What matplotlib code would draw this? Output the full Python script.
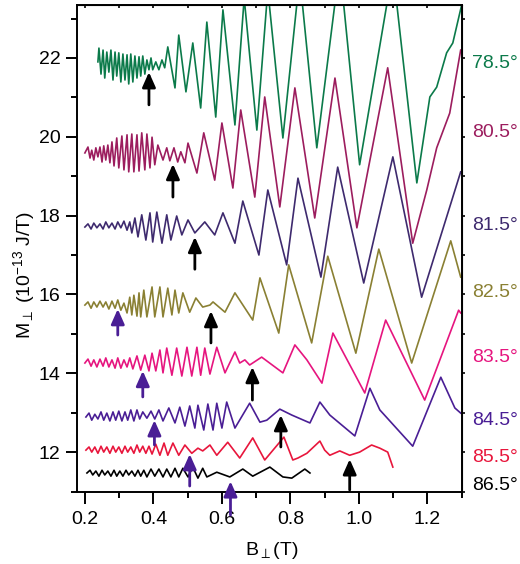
import matplotlib
matplotlib.use("Agg")
import matplotlib.pyplot as plt
from matplotlib.ticker import MultipleLocator
import matplotlib.transforms as mtransforms

plt.rcParams['font.family'] = ['Liberation Sans', 'DejaVu Sans']
plt.rcParams['mathtext.fontset'] = 'custom'
plt.rcParams['mathtext.rm'] = 'Liberation Sans'
plt.rcParams['mathtext.it'] = 'Liberation Sans:italic'

# ---------------- data ----------------
angles = ["78.5°", "80.5°", "81.5°", "82.5°", "83.5°", "84.5°", "85.5°", "86.5°"]
label_y = [21.87, 20.10, 17.76, 16.04, 14.39, 12.81, 11.87, 11.16]
colors = ["#0B7A4A", "#9C1D5E", "#3E2A6E", "#8A8033", "#E6157F", "#4A1E95", "#E8163C", "#000000"]

x785 = [0.238,0.241,0.247,0.253,0.258,0.264,0.270,0.276,0.282,0.288,0.293,0.299,0.305,0.311,0.317,0.323,0.328,0.334,0.340,0.346,0.352,0.358,0.363,0.369,
        0.375,0.381,0.387,0.393,0.398,0.407,0.416,0.425,0.433,0.442,0.463,0.474,0.495,0.515,0.538,0.556,0.582,0.603,0.638,0.665,0.702,0.734,0.778,0.827,
        0.877,0.944,1.002,1.099,1.169,1.207,1.227,1.256,1.274,1.300]
y785 = [21.90,22.25,21.59,22.20,21.49,22.15,21.64,22.20,21.44,22.15,21.54,22.13,21.39,22.10,21.44,22.08,21.34,22.10,21.39,22.05,21.49,22.03,21.54,22.05,
        21.59,21.95,21.70,22.00,21.70,21.90,21.70,21.95,21.75,22.28,21.24,22.58,21.14,22.38,20.73,22.91,20.50,23.22,20.30,23.52,20.17,23.73,19.97,24.06,
        19.72,24.36,19.29,24.26,18.83,21.01,21.26,22.13,22.38,23.35]

x805 = [0.200,0.209,0.215,0.220,0.226,0.232,0.238,0.244,0.250,0.255,0.261,0.267,0.273,0.279,0.285,0.293,0.299,0.308,0.314,0.323,0.328,0.337,0.343,0.352,
        0.358,0.366,0.375,0.381,0.390,0.396,0.404,0.413,0.428,0.439,0.448,0.460,0.471,0.480,0.492,0.501,0.527,0.547,0.579,0.600,0.632,0.655,0.696,0.725,
        0.769,0.813,0.871,0.930,0.994,1.084,1.157,1.198,1.227,1.265,1.297]
y805 = [19.59,19.74,19.46,19.66,19.41,19.72,19.49,19.74,19.36,19.77,19.41,19.79,19.34,19.87,19.26,19.97,19.21,20.02,19.16,20.05,19.11,20.07,19.11,20.05,
        19.13,20.10,19.16,20.07,19.21,19.99,19.29,19.79,19.41,19.72,19.39,19.72,19.36,19.62,19.34,19.84,19.08,20.10,18.90,20.35,18.70,20.68,18.47,21.01,
        18.22,21.24,17.94,21.49,17.69,21.75,17.30,18.65,19.72,20.60,22.20]

x815 = [0.200,0.209,0.218,0.226,0.235,0.244,0.253,0.261,0.270,0.279,0.288,0.296,0.305,0.314,0.323,0.331,0.337,0.346,0.355,0.366,0.378,0.390,0.398,0.410,
        0.425,0.439,0.451,0.468,0.483,0.501,0.521,0.550,0.579,0.603,0.638,0.661,0.708,0.734,0.789,0.822,0.889,0.938,1.014,1.099,1.183,1.297]
y815 = [17.71,17.79,17.66,17.81,17.69,17.79,17.66,17.84,17.69,17.81,17.66,17.84,17.69,17.86,17.63,17.84,17.56,17.94,17.46,18.02,17.38,18.07,17.33,18.09,
        17.30,18.02,17.38,17.99,17.51,17.89,17.56,17.84,17.51,18.07,17.30,18.37,17.00,18.65,16.75,18.95,16.44,19.23,16.29,19.49,15.93,19.11]

x825 = [0.200,0.209,0.218,0.226,0.235,0.244,0.253,0.261,0.270,0.279,0.288,0.296,0.305,0.314,0.323,0.331,0.337,0.343,0.352,0.358,0.363,0.372,0.381,0.396,
        0.404,0.419,0.428,0.442,0.454,0.463,0.474,0.486,0.506,0.524,0.544,0.565,0.574,0.609,0.638,0.690,0.711,0.766,0.795,0.862,0.909,0.991,1.058,1.154,
        1.268,1.297]
y825 = [15.73,15.81,15.65,15.81,15.68,15.83,15.68,15.81,15.63,15.83,15.65,15.86,15.60,15.78,15.53,15.93,15.48,15.98,15.45,16.04,15.43,16.11,15.43,16.19,
        15.43,16.19,15.43,16.16,15.48,16.11,15.53,16.04,15.55,15.91,15.68,15.73,15.81,15.55,16.04,15.35,16.42,15.02,16.75,14.77,16.97,14.51,17.15,14.26,
        17.36,16.44]

x835 = [0.200,0.209,0.218,0.226,0.235,0.244,0.253,0.261,0.270,0.279,0.288,0.296,0.305,0.314,0.323,0.331,0.340,0.352,0.363,0.375,0.387,0.396,0.407,0.419,
        0.428,0.439,0.454,0.468,0.483,0.498,0.512,0.527,0.538,0.550,0.565,0.585,0.609,0.638,0.652,0.667,0.681,0.716,0.778,0.813,0.848,0.892,0.924,1.017,
        1.078,1.192,1.291,1.297]
y835 = [14.26,14.36,14.18,14.34,14.16,14.36,14.18,14.39,14.16,14.34,14.13,14.39,14.13,14.34,14.16,14.39,14.11,14.44,14.08,14.46,14.06,14.51,14.06,14.59,
        14.01,14.64,13.95,14.64,13.93,14.66,13.93,14.66,13.95,14.64,13.98,14.66,14.01,14.54,14.26,14.34,14.21,14.41,14.01,14.72,14.34,13.75,15.02,13.50,
        15.35,13.32,15.60,15.53]

x845 = [0.203,0.212,0.220,0.229,0.238,0.247,0.255,0.264,0.273,0.282,0.290,0.299,0.308,0.317,0.325,0.334,0.343,0.352,0.360,0.369,0.381,0.393,0.404,0.416,
        0.428,0.445,0.463,0.477,0.492,0.506,0.521,0.530,0.547,0.559,0.574,0.585,0.600,0.614,0.638,0.681,0.711,0.731,0.769,0.804,0.857,0.886,0.915,0.988,
        1.032,1.061,1.157,1.239,1.280,1.297]
y845 = [12.89,12.99,12.81,12.96,12.84,13.02,12.81,12.99,12.79,13.02,12.81,13.04,12.79,13.02,12.81,13.07,12.79,13.07,12.84,13.02,12.86,13.04,12.84,13.07,
        12.79,13.12,12.74,13.14,12.66,13.17,12.61,13.19,12.56,13.22,12.56,13.24,12.61,13.27,12.61,13.24,12.76,12.81,13.09,12.94,12.74,13.27,12.94,12.41,
        13.62,13.07,12.15,13.90,13.12,12.99]

x855 = [0.203,0.212,0.220,0.229,0.238,0.247,0.255,0.264,0.273,0.282,0.290,0.299,0.308,0.317,0.325,0.334,0.343,0.352,0.360,0.369,0.378,0.387,0.396,0.407,
        0.419,0.431,0.442,0.457,0.474,0.492,0.512,0.530,0.544,0.565,0.585,0.617,0.652,0.690,0.725,0.781,0.807,0.822,0.848,0.886,0.900,0.915,0.944,0.973,
        1.002,1.037,1.061,1.084,1.099]
y855 = [12.05,12.13,12.00,12.13,11.97,12.15,12.00,12.13,11.97,12.15,12.00,12.13,11.97,12.15,12.00,12.13,11.97,12.18,12.00,12.15,11.97,12.15,11.95,12.20,
        11.92,12.23,11.92,12.23,11.92,12.18,11.97,12.10,12.03,12.18,11.92,12.25,11.85,12.36,11.80,12.38,11.80,11.85,11.97,12.28,12.05,11.92,12.03,11.92,
        12.00,12.18,12.10,12.00,11.62]

x865 = [0.206,0.215,0.223,0.232,0.241,0.250,0.258,0.267,0.276,0.285,0.293,0.302,0.311,0.320,0.328,0.337,0.346,0.355,0.363,0.372,0.381,0.393,0.404,0.416,
        0.428,0.439,0.451,0.463,0.474,0.486,0.501,0.515,0.530,0.544,0.556,0.585,0.623,0.661,0.690,0.740,0.778,0.804,0.842,0.857]
y865 = [11.47,11.54,11.42,11.52,11.39,11.54,11.42,11.52,11.39,11.54,11.39,11.52,11.39,11.54,11.42,11.52,11.39,11.54,11.39,11.54,11.37,11.57,11.39,11.57,
        11.37,11.57,11.37,11.59,11.37,11.59,11.37,11.62,11.34,11.59,11.37,11.49,11.37,11.57,11.39,11.62,11.37,11.34,11.57,11.47]

series_x = [x785, x805, x815, x825, x835, x845, x855, x865]
series_y = [y785, y805, y815, y825, y835, y845, y855, y865]

# arrows (x position, tip, tail)
black_arrow_x = [0.387, 0.457, 0.521, 0.568, 0.689, 0.772, 0.973]
black_arrow_tip = [21.64, 19.31, 17.46, 15.58, 14.16, 12.94, 11.82]
black_arrow_tail = [20.81, 18.47, 16.64, 14.77, 13.32, 12.13, 11.04]
purple_arrow_x = [0.296, 0.369, 0.403, 0.506, 0.625]
purple_arrow_tip = [15.63, 14.06, 12.81, 11.95, 11.26]
purple_arrow_tail = [14.97, 13.40, 12.18, 11.14, 10.40]
purple_arrow_color = "#4A1E95"

# ---------------- figure ----------------
fig = plt.figure(figsize=(5.2, 5.64), dpi=100)
ax = fig.add_axes([0.1481, 0.1271, 0.7398, 0.8645])

for xs, ys, c in zip(series_x, series_y, colors):
    ax.plot(xs, ys, color=c, lw=1.2, solid_joinstyle='round')

ax.set_xlim(0.177, 1.30)
ax.set_ylim(10.98, 23.35)

for xs_, tip_, tail_, col in ((black_arrow_x, black_arrow_tip, black_arrow_tail, 'black'),
                              (purple_arrow_x, purple_arrow_tip, purple_arrow_tail, purple_arrow_color)):
    for xa, yt, yb in zip(xs_, tip_, tail_):
        ax.annotate('', xy=(xa, yt), xytext=(xa, yb), annotation_clip=False,
                    arrowprops=dict(arrowstyle='-|>,head_length=0.45,head_width=0.2',
                                    mutation_scale=20, lw=2.0, color=col,
                                    shrinkA=0, shrinkB=0))

trans = mtransforms.blended_transform_factory(ax.transAxes, ax.transData)
for lab, yy, c in zip(angles, label_y, colors):
    ax.text(1.027, yy, lab, color=c, fontsize=14, ha='left', va='center', transform=trans)

# ticks
ax.xaxis.set_major_locator(MultipleLocator(0.2))
ax.xaxis.set_minor_locator(MultipleLocator(0.1))
ax.yaxis.set_major_locator(MultipleLocator(2))
ax.yaxis.set_minor_locator(MultipleLocator(1))
ax.xaxis.set_major_formatter(plt.FuncFormatter(lambda v, p: f"{v:.1f}"))
ax.tick_params(axis='x', which='major', direction='out', length=8.5, width=1.4, labelsize=14, pad=5)
ax.tick_params(axis='x', which='minor', direction='out', length=4.5, width=1.4)
ax.tick_params(axis='y', which='major', direction='out', length=8, width=1.4, labelsize=14, pad=4)
ax.tick_params(axis='y', which='minor', direction='out', length=4, width=1.4)
for s in ax.spines.values():
    s.set_linewidth(1.4)

top = ax.secondary_xaxis('top')
top.xaxis.set_major_locator(MultipleLocator(0.1))
top.tick_params(direction='in', length=2.5, width=1.2, labeltop=False)
right = ax.secondary_yaxis('right')
right.yaxis.set_major_locator(MultipleLocator(1))
right.tick_params(direction='out', length=2.5, width=1.2, labelright=False)

ax.text(-0.138, 0.446, r"M$_\perp$ (10$^{-13}$ J/T)", rotation=90, fontsize=14,
        ha='center', va='center', transform=ax.transAxes)
ax.text(0.507, -0.119, r"B$_\perp$(T)", fontsize=14, ha='center', va='center', transform=ax.transAxes)

fig.savefig("out.png", dpi=100)
